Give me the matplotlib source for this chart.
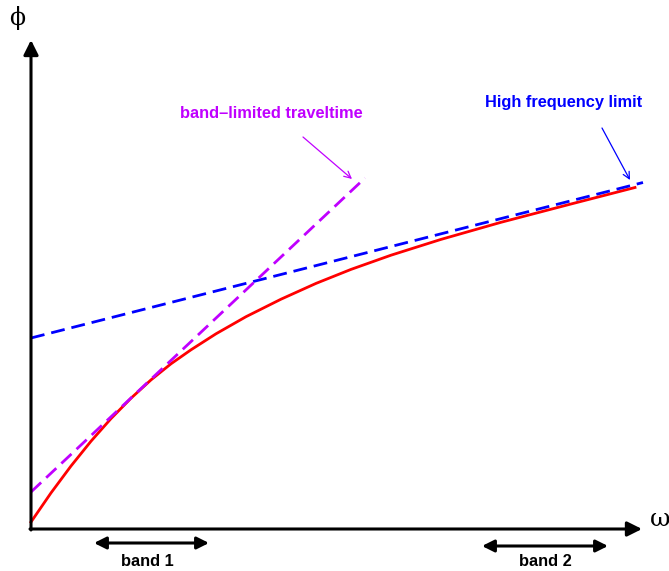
import matplotlib
matplotlib.use("Agg")
import matplotlib.pyplot as plt

# schematic phase vs. frequency (units: px from the axis corner)
omega_red = [0, 20, 40, 60, 80, 100, 120, 140, 160, 185, 215, 250, 285, 320,
             360, 410, 470, 540, 604]
phi_red = [7, 36.1, 63.0, 87.8, 110.4, 130.8, 149.1, 165.2, 179.2, 195.2, 212.3,
           229.8, 245.6, 259.6, 273.8, 289.6, 306.7, 325.0, 341.5]

omega_hf = [0, 612]
phi_hf = [191, 346.5]

omega_bl = [0, 334]
phi_bl = [37, 351]

band1 = [63, 178]
band2 = [451, 577]

purple = "#c000ff"

fig = plt.figure(figsize=(6.69, 5.71), dpi=100)
ax = fig.add_axes([0, 0, 1, 1])
ax.set_xlim(-31, 638)
ax.set_ylim(-42, 529)
ax.axis("off")

# axes with arrows
ax.annotate("", xy=(0, 489), xytext=(0, -1),
            arrowprops=dict(arrowstyle="-|>", color="black", lw=2.2,
                            mutation_scale=22, shrinkA=0, shrinkB=0))
ax.annotate("", xy=(611, 0), xytext=(-1, 0),
            arrowprops=dict(arrowstyle="-|>", color="black", lw=2.2,
                            mutation_scale=22, shrinkA=0, shrinkB=0))
ax.text(-14, 511, "ϕ", fontsize=17, family="DejaVu Serif", ha="center", va="center")
ax.text(629, 9, "ω", fontsize=18, family="DejaVu Serif", ha="center", va="center")

# curves
ax.plot(omega_red, phi_red, color="red", lw=2.0, solid_joinstyle="round")
ax.plot(omega_hf, phi_hf, color="blue", lw=2.0, dashes=(5, 2.5))
ax.plot(omega_bl, phi_bl, color=purple, lw=2.0, dashes=(5, 2.5))

# labels
ax.text(240, 415, "band\u2013limited traveltime", ha="center", va="center",
        color=purple, fontsize=11.8, fontweight="bold", family="Liberation Sans")
ax.annotate("", xy=(321, 350), xytext=(272, 392),
            arrowprops=dict(arrowstyle="->", color=purple, lw=0.9,
                            shrinkA=0, shrinkB=0, mutation_scale=12))
ax.text(533, 427, "High frequency limit", ha="center", va="center",
        color="blue", fontsize=11.8, fontweight="bold", family="Liberation Sans")
ax.annotate("", xy=(599, 349), xytext=(571, 401),
            arrowprops=dict(arrowstyle="->", color="blue", lw=0.9,
                            shrinkA=0, shrinkB=0, mutation_scale=12))

# frequency bands
for b, y in [(band1, -14), (band2, -17)]:
    ax.annotate("", xy=(b[1], y), xytext=(b[0], y),
                arrowprops=dict(arrowstyle="<|-|>", color="black", lw=2.2,
                                mutation_scale=18, shrinkA=0, shrinkB=0))
ax.text(116, -33, "band 1", fontsize=11.8, fontweight="bold",
        family="Liberation Sans", ha="center", va="center")
ax.text(514, -33, "band 2", fontsize=11.8, fontweight="bold",
        family="Liberation Sans", ha="center", va="center")

fig.savefig("out.png", dpi=100)
